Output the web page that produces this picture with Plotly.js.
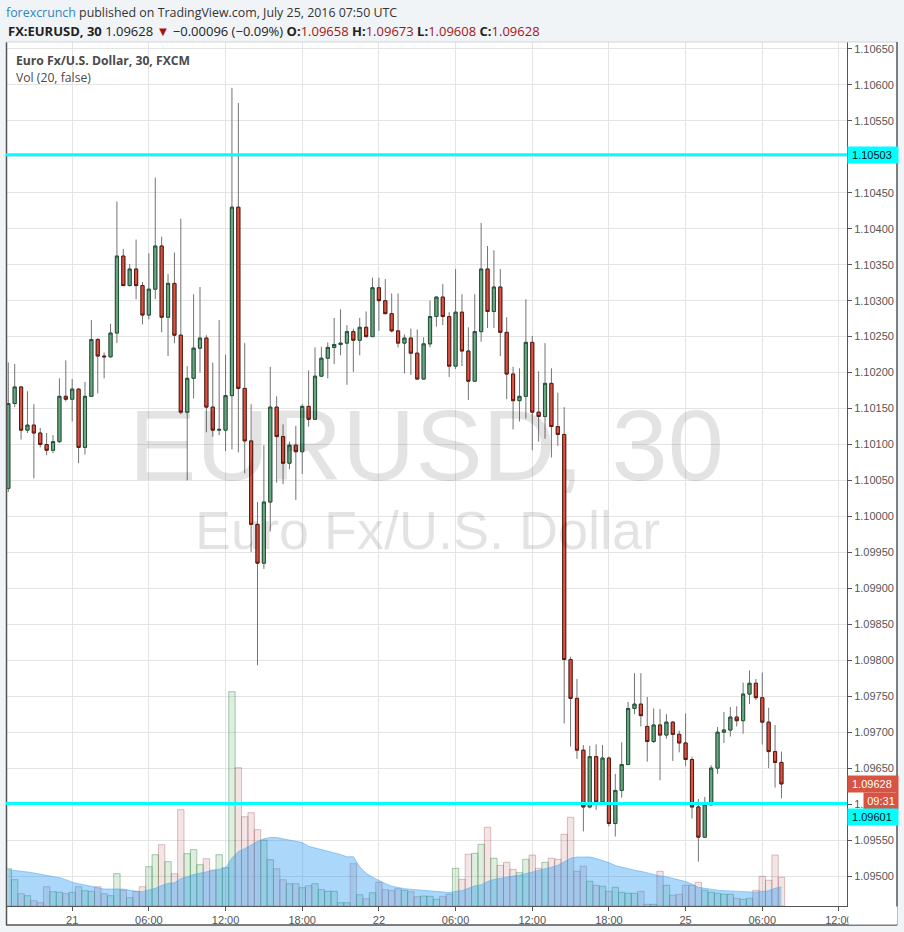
<!DOCTYPE html>
<html>
<head>
<meta charset="utf-8">
<script src="https://cdn.plot.ly/plotly-3.0.1.min.js"></script>
<style>
html,body{margin:0;padding:0;background:#f1f4f7;}
#chart{width:904px;height:932px;}
</style>
</head>
<body>
<div id="chart"></div>
<script>
// ---- Data: EUR/USD 30-minute candles (FXCM), 20 Jul 19:00 – 25 Jul 07:30 UTC ----
const openP = [1.10039,1.10157,1.10180,1.10120,1.10127,1.10116,1.10100,1.10092,1.10104,1.10167,
1.10163,1.10177,1.10096,1.10167,1.10246,1.10223,1.10222,1.10255,1.10362,1.10321,
1.10344,1.10321,1.10280,1.10316,1.10376,1.10277,1.10324,1.10252,1.10145,1.10192,
1.10234,1.10248,1.10152,1.10120,1.10120,1.10168,1.10430,1.10178,1.10105,1.09989,
1.09935,1.10020,1.10152,1.10111,1.10074,1.10099,1.10090,1.10153,1.10135,1.10195,
1.10220,1.10235,1.10239,1.10241,1.10257,1.10245,1.10263,1.10250,1.10318,1.10300,
1.10282,1.10258,1.10241,1.10248,1.10227,1.10191,1.10240,1.10278,1.10305,1.10278,
1.10209,1.10284,1.10230,1.10188,1.10257,1.10344,1.10285,1.10319,1.10256,1.10198,
1.10161,1.10167,1.10242,1.10145,1.10139,1.10185,1.10125,1.10114,1.09801,1.09747,
1.09675,1.09596,1.09666,1.09603,1.09664,1.09573,1.09619,1.09655,1.09733,1.09739,
1.09708,1.09687,1.09710,1.09696,1.09714,1.09697,1.09685,1.09662,1.09596,1.09554,
1.09599,1.09650,1.09700,1.09703,1.09721,1.09716,1.09753,1.09768,1.09748,1.09714,
1.09673,1.09658];

const highP = [1.10214,1.10212,1.10181,1.10174,1.10156,1.10123,1.10116,1.10113,1.10192,1.10217,
1.10191,1.10178,1.10187,1.10273,1.10248,1.10228,1.10268,1.10438,1.10372,1.10351,
1.10385,1.10326,1.10366,1.10471,1.10389,1.10337,1.10367,1.10414,1.10209,1.10309,
1.10319,1.10252,1.10214,1.10273,1.10225,1.10596,1.10575,1.10241,1.10156,1.10020,
1.10099,1.10208,1.10167,1.10128,1.10104,1.10126,1.10156,1.10203,1.10235,1.10236,
1.10242,1.10276,1.10288,1.10266,1.10261,1.10276,1.10285,1.10332,1.10332,1.10330,
1.10310,1.10310,1.10253,1.10261,1.10260,1.10249,1.10300,1.10306,1.10323,1.10284,
1.10344,1.10309,1.10263,1.10309,1.10408,1.10376,1.10370,1.10344,1.10277,1.10208,
1.10206,1.10302,1.10251,1.10202,1.10241,1.10206,1.10172,1.10152,1.09805,1.09774,
1.09682,1.09681,1.09683,1.09682,1.09666,1.09642,1.09686,1.09742,1.09782,1.09782,
1.09749,1.09733,1.09732,1.09725,1.09715,1.09702,1.09726,1.09666,1.09607,1.09610,
1.09654,1.09707,1.09728,1.09735,1.09736,1.09769,1.09786,1.09774,1.09783,1.09734,
1.09710,1.09673];

const lowP = [1.10034,1.10152,1.10107,1.10116,1.10053,1.10096,1.10085,1.10088,1.10102,1.10160,
1.10132,1.10074,1.10086,1.10166,1.10171,1.10192,1.10221,1.10241,1.10321,1.10320,
1.10302,1.10267,1.10274,1.10302,1.10256,1.10223,1.10241,1.10142,1.10050,1.10164,
1.10200,1.10117,1.10111,1.10113,1.10091,1.10093,1.10089,1.10060,1.09951,1.09793,
1.09927,1.09979,1.10047,1.10045,1.10066,1.10023,1.10059,1.10125,1.10135,1.10195,
1.10192,1.10212,1.10224,1.10183,1.10201,1.10224,1.10249,1.10250,1.10258,1.10281,
1.10256,1.10235,1.10199,1.10197,1.10191,1.10191,1.10235,1.10264,1.10266,1.10194,
1.10205,1.10209,1.10162,1.10188,1.10243,1.10262,1.10262,1.10223,1.10163,1.10121,
1.10132,1.10136,1.10092,1.10104,1.10108,1.10082,1.10098,1.09712,1.09680,1.09663,
1.09562,1.09594,1.09592,1.09602,1.09569,1.09555,1.09609,1.09655,1.09725,1.09708,
1.09659,1.09685,1.09633,1.09691,1.09660,1.09672,1.09653,1.09580,1.09520,1.09554,
1.09598,1.09642,1.09685,1.09694,1.09708,1.09698,1.09739,1.09745,1.09683,1.09650,
1.09623,1.09608];

const closeP = [1.10157,1.10180,1.10120,1.10127,1.10116,1.10100,1.10092,1.10104,1.10167,1.10163,
1.10177,1.10096,1.10167,1.10246,1.10223,1.10222,1.10255,1.10362,1.10321,1.10344,
1.10321,1.10280,1.10316,1.10376,1.10277,1.10324,1.10252,1.10145,1.10192,1.10234,
1.10248,1.10152,1.10120,1.10121,1.10168,1.10430,1.10178,1.10105,1.09989,1.09935,
1.10020,1.10152,1.10111,1.10074,1.10099,1.10090,1.10153,1.10135,1.10195,1.10220,
1.10235,1.10239,1.10241,1.10257,1.10245,1.10263,1.10250,1.10318,1.10300,1.10282,
1.10258,1.10241,1.10248,1.10227,1.10191,1.10240,1.10278,1.10305,1.10278,1.10209,
1.10284,1.10230,1.10188,1.10257,1.10344,1.10285,1.10319,1.10256,1.10198,1.10161,
1.10167,1.10242,1.10145,1.10139,1.10185,1.10125,1.10114,1.09801,1.09747,1.09675,
1.09596,1.09666,1.09603,1.09664,1.09573,1.09619,1.09655,1.09733,1.09739,1.09723,
1.09687,1.09710,1.09696,1.09714,1.09697,1.09685,1.09662,1.09596,1.09554,1.09599,
1.09650,1.09700,1.09703,1.09721,1.09716,1.09753,1.09768,1.09748,1.09714,1.09673,
1.09658,1.09628];

const volume = [373,263,123,103,53,33,193,143,137,123,
137,193,153,147,193,123,103,323,157,83,
147,193,393,513,613,443,323,963,523,563,
413,473,360,513,383,2143,1383,893,933,763,
657,463,373,263,223,223,183,203,223,163,
147,147,33,33,423,113,73,133,237,163,
153,173,157,143,93,100,97,67,97,117,
377,267,517,527,617,787,477,407,437,367,
333,467,510,377,437,477,467,717,887,347,
397,247,207,197,147,187,137,127,127,147,
17,17,347,207,107,117,207,207,237,157,
137,127,117,117,77,67,77,157,297,257,
510,287];

// Volume MA(20) values for the first 19 bars (window reaches before the visible data)
const volMaHead = [363,357,347,340,330,320,310,300,283,263,237,223,207,197,183,170,170,173,170];
const maPeriod = 20;

const levelHigh = 1.10503;
const levelLow = 1.09601;
const lastPriceLabel = "1.09628";
const countdown = "09:31";

// ---- 30-minute time slots (FX market closed Fri 21:00 – Sun 21:00 UTC) ----
const slotStart = Date.UTC(2016, 6, 20, 19, 0);
const slotEnd = Date.UTC(2016, 6, 25, 13, 0);
const closedFrom = Date.UTC(2016, 6, 22, 21, 0);
const closedTo = Date.UTC(2016, 6, 24, 21, 0);
const slots = [];
for (let t = slotStart; t <= slotEnd; t += 1800000) {
  if (t >= closedFrom && t < closedTo) continue;
  slots.push(t);
}
const xIdx = closeP.map((_, i) => i);
const tickvals = [], ticktext = [];
slots.forEach((t, i) => {
  const d = new Date(t);
  if (d.getUTCMinutes() === 0 && d.getUTCHours() % 6 === 0) {
    tickvals.push(i);
    ticktext.push(d.getUTCHours() === 0 ? String(d.getUTCDate())
      : String(d.getUTCHours()).padStart(2, '0') + ':00');
  }
});

// price scale ticks every 0.0005; labels hidden where the price-scale markers sit on top of them
const yTickVals = [], yTickText = [];
for (let k = 0; k <= 23; k++) {
  const v = +(1.095 + k * 0.0005).toFixed(5);
  yTickVals.push(v);
  const s = v.toFixed(5);
  if (Math.abs(v - levelHigh) < 0.0002) yTickText.push('');
  else if (Math.abs(v - levelLow) < 0.0001) yTickText.push(s.slice(0, 2));
  else yTickText.push(s);
}

const volMa = volume.map((v, i) => i < maPeriod - 1 ? volMaHead[i]
  : volume.slice(i - maPeriod + 1, i + 1).reduce((a, b) => a + b, 0) / maPeriod);
const isUp = closeP.map((c, i) => c >= openP[i]);
const bodyHigh = closeP.map((c, i) => Math.max(c, openP[i]));
const bodyLow = closeP.map((c, i) => Math.min(c, openP[i]));

const GREEN = '#6ba583', GREEN_D = '#225437', RED = '#d75442', RED_D = '#5b1a13', WICK = '#737375';

const traces = [
  {
    type: 'bar', x: xIdx, y: volume, yaxis: 'y2', hoverinfo: 'skip',
    marker: {
      color: isUp.map(u => u ? 'rgba(90,170,95,0.2)' : 'rgba(170,70,70,0.14)'),
      line: { color: isUp.map(u => u ? 'rgba(70,140,80,0.45)' : 'rgba(160,80,80,0.35)'), width: 1 }
    }
  },
  {
    type: 'scatter', mode: 'lines', x: xIdx, y: volMa, yaxis: 'y2', hoverinfo: 'skip',
    line: { color: 'rgba(80,170,240,0.55)', width: 1 },
    fill: 'tozeroy', fillcolor: 'rgba(33,150,243,0.38)'
  },
  {
    type: 'candlestick', x: xIdx, open: openP, high: highP, low: lowP, close: closeP,
    whiskerwidth: 0, hoverinfo: 'skip',
    increasing: { line: { color: WICK, width: 1 }, fillcolor: GREEN },
    decreasing: { line: { color: WICK, width: 1 }, fillcolor: RED }
  },
  {
    type: 'candlestick', x: xIdx, open: openP, high: bodyHigh, low: bodyLow, close: closeP,
    whiskerwidth: 0, hoverinfo: 'skip',
    increasing: { line: { color: GREEN_D, width: 1 }, fillcolor: GREEN },
    decreasing: { line: { color: RED_D, width: 1 }, fillcolor: RED }
  }
];

// plot area: x 6..847, y 42..906
const PL = 6, PR = 847, PT = 42, PB = 906;
const px2x = p => (p - PL) / (PR - PL);
const px2y = p => (PB - p) / (PB - PT);

const axFont = { family: 'Liberation Sans, Arial, sans-serif', size: 11, color: '#555' };
const txtFont = 'Open Sans, Noto Sans, sans-serif';

const layout = {
  width: 904, height: 932,
  margin: { l: PL, r: 904 - PR, t: PT, b: 932 - PB, pad: 0 },
  paper_bgcolor: '#f1f4f7', plot_bgcolor: '#ffffff',
  showlegend: false, bargap: 0, boxgap: 0.3,
  xaxis: {
    range: [-0.36, 131.26], tickmode: 'array', tickvals: tickvals, ticktext: ticktext,
    showgrid: true, gridcolor: '#e4e4e4', gridwidth: 1, zeroline: false,
    ticks: 'outside', ticklen: 4, tickcolor: '#555', showline: true, linecolor: '#555', linewidth: 1,
    tickfont: axFont, rangeslider: { visible: false }, fixedrange: true
  },
  yaxis: {
    side: 'right', range: [1.094583, 1.106597], tickmode: 'array', tickvals: yTickVals, ticktext: yTickText,
    showgrid: true, gridcolor: '#e4e4e4', gridwidth: 1, zeroline: false,
    ticks: 'outside', ticklen: 4, tickcolor: '#555', showline: true, linecolor: '#555', linewidth: 1,
    tickfont: axFont, fixedrange: true
  },
  yaxis2: { overlaying: 'y', range: [0, 8640], visible: false, fixedrange: true },
  shapes: [
    { type: 'rect', xref: 'paper', yref: 'paper', x0: 0, x1: px2x(897), y0: px2y(925), y1: 1,
      fillcolor: '#ffffff', line: { width: 0 }, layer: 'below' },
    { type: 'line', xref: 'paper', yref: 'paper', x0: px2x(6.5), x1: px2x(6.5), y0: px2y(925), y1: 1,
      line: { color: '#555', width: 1.5 }, layer: 'above' },
    { type: 'line', xref: 'paper', yref: 'paper', x0: 0, x1: px2x(897), y0: 1, y1: 1,
      line: { color: '#d4d4d4', width: 1 }, layer: 'above' },
    { type: 'line', xref: 'paper', yref: 'paper', x0: 0, x1: px2x(897), y0: px2y(925), y1: px2y(925),
      line: { color: '#555', width: 1.5 }, layer: 'above' },
    { type: 'line', xref: 'paper', yref: 'paper', x0: px2x(897), x1: px2x(897), y0: px2y(925), y1: 1,
      line: { color: '#555', width: 1.5 }, layer: 'above' },
    { type: 'line', xref: 'paper', yref: 'y', x0: 0, x1: 1, y0: levelHigh, y1: levelHigh,
      line: { color: '#00ffff', width: 3 }, layer: 'above' },
    { type: 'line', xref: 'paper', yref: 'y', x0: 0, x1: 1, y0: levelLow, y1: levelLow,
      line: { color: '#00ffff', width: 3 }, layer: 'above' }
  ],
  annotations: [
    { xref: 'paper', yref: 'paper', x: px2x(4), y: px2y(12.5), xanchor: 'left', yanchor: 'middle',
      showarrow: false, font: { family: txtFont, size: 12.4, color: '#333' },
      text: '<span style="color:#2a86c6">forexcrunch</span> published on TradingView.com, July 25, 2016 07:50 UTC' },
    { xref: 'paper', yref: 'paper', x: px2x(6), y: px2y(30.5), xanchor: 'left', yanchor: 'middle',
      showarrow: false, font: { family: txtFont, size: 13, color: '#222' },
      text: '<b>FX:EURUSD, 30</b> 1.09628 <span style="color:#a31515">▼</span> −0.00096 (−0.09%) <b>O:</b><span style="color:#a31515">1.09658</span> <b>H:</b><span style="color:#a31515">1.09673</span> <b>L:</b><span style="color:#a31515">1.09608</span> <b>C:</b><span style="color:#a31515">1.09628</span>' },
    { xref: 'paper', yref: 'paper', x: px2x(14), y: px2y(61), xanchor: 'left', yanchor: 'middle',
      showarrow: false, font: { family: txtFont, size: 12.2, color: '#4a4a4a' },
      text: '<b>Euro Fx/U.S. Dollar, 30, FXCM</b>' },
    { xref: 'paper', yref: 'paper', x: px2x(14), y: px2y(78), xanchor: 'left', yanchor: 'middle',
      showarrow: false, font: { family: txtFont, size: 12.2, color: '#4a4a4a' },
      text: 'Vol (20, false)' },
    { xref: 'paper', yref: 'paper', x: px2x(426), y: px2y(445), xanchor: 'center', yanchor: 'middle',
      showarrow: false, font: { family: 'Liberation Sans, Arial, sans-serif', size: 101, color: 'rgba(0,0,0,0.11)' },
      text: 'EURUSD, 30' },
    { xref: 'paper', yref: 'paper', x: px2x(427), y: px2y(530), xanchor: 'center', yanchor: 'middle',
      showarrow: false, font: { family: 'Liberation Sans, Arial, sans-serif', size: 54, color: 'rgba(0,0,0,0.11)' },
      text: 'Euro Fx/U.S. Dollar' },
    // price scale labels
    { xref: 'paper', yref: 'y', x: px2x(847), y: levelHigh, xanchor: 'left', yanchor: 'middle',
      showarrow: false, bgcolor: '#00ffff', borderpad: 1, width: 48, height: 14, align: 'left',
      font: { family: 'Liberation Sans, Arial, sans-serif', size: 11, color: '#111' },
      text: ' ' + levelHigh.toFixed(5) },
    { xref: 'paper', yref: 'y', x: px2x(847), y: closeP[closeP.length - 1], xanchor: 'left', yanchor: 'middle',
      showarrow: false, bgcolor: RED, borderpad: 1, width: 48, height: 14, align: 'left',
      font: { family: 'Liberation Sans, Arial, sans-serif', size: 11, color: '#fff' },
      text: ' ' + lastPriceLabel },
    { xref: 'paper', yref: 'y', x: px2x(863), y: closeP[closeP.length - 1], yshift: -17, xanchor: 'left', yanchor: 'middle',
      showarrow: false, bgcolor: RED, borderpad: 1, width: 32, height: 14, align: 'center',
      font: { family: 'Liberation Sans, Arial, sans-serif', size: 11, color: '#fff' },
      text: countdown },
    { xref: 'paper', yref: 'y', x: px2x(847), y: levelLow, yshift: -14, xanchor: 'left', yanchor: 'middle',
      showarrow: false, bgcolor: '#00ffff', borderpad: 1, width: 48, height: 14, align: 'left',
      font: { family: 'Liberation Sans, Arial, sans-serif', size: 11, color: '#111' },
      text: ' ' + levelLow.toFixed(5) },
    // price scale clips the last time label
    { xref: 'paper', yref: 'paper', x: px2x(848), y: px2y(915.5), xanchor: 'left', yanchor: 'middle',
      showarrow: false, bgcolor: '#ffffff', borderpad: 0, width: 48, height: 17, text: ' ' }
  ]
};

Plotly.newPlot('chart', traces, layout, { staticPlot: true, displayModeBar: false });
</script>
</body>
</html>
